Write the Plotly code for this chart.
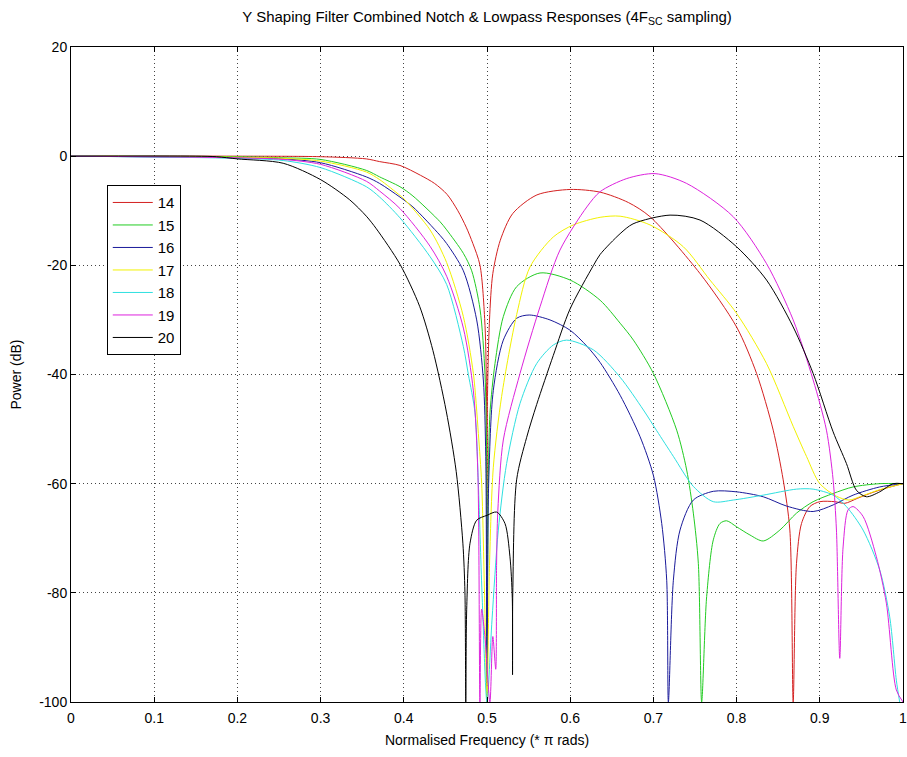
import plotly.graph_objects as go

# ---- data ----
freq_14 = [0, 0.2, 0.3, 0.355, 0.371, 0.3954, 0.42, 0.437, 0.452, 0.465, 0.475, 0.483, 0.4916, 0.4976, 0.4995, 0.5, 0.5005, 0.503, 0.507, 0.516, 0.531, 0.56, 0.6, 0.636, 0.67, 0.696, 0.756, 0.8, 0.824, 0.844, 0.856, 0.864, 0.868, 0.872, 0.878, 0.888, 0.9, 0.918, 0.93, 0.945, 0.96, 0.98, 1.0]
power_14 = [0, 0, -0.1, -0.5, -1.0, -1.7, -3.5, -5, -7, -10, -13, -16, -20, -31, -45, -88, -45, -30, -21.5, -15.4, -10.5, -7.1, -6.1, -6.6, -8.5, -11.1, -21.5, -31.3, -39.8, -50.2, -59.3, -68.5, -100, -74.6, -67.3, -64.2, -63.3, -63.3, -63.6, -62.7, -61.8, -60.8, -60]

freq_15 = [0, 0.2, 0.255, 0.3, 0.355, 0.371, 0.3954, 0.411, 0.4435, 0.4515, 0.4716, 0.4816, 0.4916, 0.4976, 0.4995, 0.5, 0.5015, 0.5036, 0.5096, 0.5196, 0.5357, 0.5637, 0.6, 0.636, 0.66, 0.676, 0.70, 0.728, 0.740, 0.748, 0.754, 0.758, 0.764, 0.772, 0.78, 0.788, 0.80, 0.816, 0.832, 0.852, 0.872, 0.892, 0.916, 0.94, 0.972, 1.0]
power_15 = [0, -0.1, -0.3, -0.6, -2.6, -3.8, -5.6, -7.3, -12.0, -13.5, -17.8, -21, -28, -40, -55, -100, -60, -47, -38, -29.4, -23.9, -21.4, -22.7, -26.4, -30.6, -33.7, -39.8, -50.2, -57.5, -65.4, -74.6, -100, -80.7, -70.3, -67.3, -66.8, -67.9, -69.4, -70.5, -68.5, -65.4, -63.3, -61.8, -60.6, -60, -60]

freq_16 = [0, 0.2, 0.255, 0.3, 0.355, 0.371, 0.3954, 0.411, 0.4435, 0.4515, 0.4716, 0.4876, 0.4956, 0.4985, 0.5, 0.502, 0.5076, 0.5196, 0.5357, 0.5507, 0.5757, 0.6, 0.62, 0.636, 0.66, 0.684, 0.70, 0.71, 0.716, 0.718, 0.724, 0.732, 0.748, 0.772, 0.80, 0.832, 0.86, 0.892, 0.916, 0.94, 0.972, 1.0]
power_16 = [0, -0.3, -0.5, -1.2, -3.8, -5, -7.5, -9.3, -14.5, -16, -21, -30, -41, -55, -100, -60, -42.9, -33.7, -29.7, -29.1, -30, -31.9, -34.8, -37.8, -43.8, -51.4, -58.5, -67.3, -77.7, -100, -77.7, -68.5, -63, -61.4, -61.5, -62.4, -64.1, -65.1, -63.9, -62.1, -60.6, -60]

freq_17 = [0, 0.2, 0.255, 0.3, 0.355, 0.371, 0.3954, 0.4014, 0.4315, 0.4515, 0.4716, 0.4836, 0.4896, 0.4936, 0.497, 0.5, 0.503, 0.5076, 0.5176, 0.5357, 0.5517, 0.5797, 0.6037, 0.636, 0.66, 0.696, 0.736, 0.768, 0.80, 0.836, 0.868, 0.884, 0.90, 0.92, 0.935, 0.95, 0.97, 1.0]
power_17 = [0, -0.2, -0.4, -0.9, -2.9, -4.3, -7.2, -8.0, -13.5, -19.5, -29.4, -39.8, -50.8, -60, -80, -100, -75, -57, -44, -29, -20.3, -14.8, -12.6, -11.2, -11, -12.6, -16.6, -22.7, -28.8, -38, -49.5, -55, -60, -62.3, -63, -62.3, -61.2, -60]

freq_18 = [0, 0.2, 0.255, 0.3, 0.355, 0.371, 0.3954, 0.4315, 0.4515, 0.4716, 0.4776, 0.4856, 0.4896, 0.494, 0.5, 0.506, 0.5136, 0.5236, 0.5397, 0.5597, 0.5797, 0.5957, 0.628, 0.66, 0.688, 0.704, 0.724, 0.748, 0.772, 0.796, 0.832, 0.872, 0.892, 0.916, 0.932, 0.952, 0.972, 0.984, 0.992, 0.996]
power_18 = [0, -0.4, -0.8, -2.1, -5.6, -7.5, -11.3, -18.4, -23.5, -34.9, -40, -47, -60, -80, -100, -85, -68.5, -56.3, -45.3, -38, -34.6, -33.7, -35.5, -40.5, -46.5, -50.3, -55, -60.5, -63.3, -63, -62.1, -61, -61, -62.1, -64.2, -68.5, -75.8, -84.4, -96, -100]

freq_19 = [0, 0.2, 0.255, 0.3, 0.355, 0.371, 0.3954, 0.4315, 0.4515, 0.4716, 0.4836, 0.489, 0.4915, 0.4935, 0.4975, 0.5035, 0.507, 0.5105, 0.5115, 0.513, 0.5196, 0.5397, 0.5637, 0.5877, 0.62, 0.636, 0.668, 0.702, 0.74, 0.796, 0.836, 0.868, 0.892, 0.908, 0.916, 0.92, 0.924, 0.928, 0.934, 0.94, 0.952, 0.968, 0.98, 0.992, 1.0]
power_19 = [0, -0.3, -0.6, -1.5, -4.6, -6.4, -9.6, -16.5, -22, -31.5, -43, -58, -100, -83, -88, -100, -88, -94, -75, -65, -52, -39.8, -27.6, -17.2, -9.3, -6.5, -4.1, -3.2, -5, -11.1, -19.7, -30, -41, -50.2, -59.3, -68.5, -92, -71.6, -64.8, -64.2, -66, -73.4, -81.9, -97.8, -100]

freq_20 = [0, 0.15, 0.175, 0.2, 0.255, 0.3, 0.335, 0.355, 0.367, 0.3954, 0.419, 0.435, 0.451, 0.463, 0.471, 0.4735, 0.4745, 0.4756, 0.4796, 0.4876, 0.5, 0.5116, 0.5216, 0.5276, 0.5304, 0.5307, 0.531, 0.5356, 0.5477, 0.5597, 0.5797, 0.5998, 0.628, 0.636, 0.66, 0.6755, 0.72, 0.756, 0.80, 0.836, 0.868, 0.892, 0.916, 0.932, 0.944, 0.956, 0.972, 0.988, 1.0]
power_20 = [0, 0, -0.1, -0.5, -1.3, -4.3, -8.0, -11.0, -13.3, -19.8, -27.5, -35.6, -46.7, -57.8, -70.9, -80, -100, -83, -70.9, -66.7, -65.8, -65.2, -67.3, -73.4, -81, -95, -80, -59.3, -51.5, -45.5, -36.5, -28, -20, -18, -14.2, -12.4, -10.8, -11.7, -16.6, -22.7, -31.3, -39.8, -50.5, -56.3, -61.2, -62.4, -61.5, -60, -60]

series_names = ["14", "15", "16", "17", "18", "19", "20"]
x_ticks = [0, 0.1, 0.2, 0.3, 0.4, 0.5, 0.6, 0.7, 0.8, 0.9, 1]
x_tick_labels = ["0", "0.1", "0.2", "0.3", "0.4", "0.5", "0.6", "0.7", "0.8", "0.9", "1"]
y_ticks = [-100, -80, -60, -40, -20, 0, 20]
y_tick_labels = ["-100", "-80", "-60", "-40", "-20", "0", "20"]

freqs = [freq_14, freq_15, freq_16, freq_17, freq_18, freq_19, freq_20]
powers = [power_14, power_15, power_16, power_17, power_18, power_19, power_20]
colors = ["#d42020", "#22cc22", "#1a1a9a", "#f2f200", "#2ee0e0", "#dd22dd", "#000000"]

FONT = "Liberation Sans, Arial, Helvetica, sans-serif"

fig = go.Figure()
for name, fx, py, col in zip(series_names, freqs, powers, colors):
    fig.add_trace(go.Scatter(x=fx, y=py, mode="lines", name=name,
                             line=dict(color=col, width=1, shape="spline", smoothing=0.8),
                             cliponaxis=True))

axis_common = dict(showline=True, linecolor="black", linewidth=1, mirror="allticks",
                   ticks="inside", ticklen=5, tickcolor="black",
                   showgrid=True, gridcolor="#444444", griddash="1px,3px", gridwidth=1,
                   zeroline=False, ticklabeloverflow="allow", automargin=False,
                   tickfont=dict(family=FONT, size=14, color="black"))

fig.update_layout(
    width=907, height=757,
    margin=dict(l=71, r=4, t=47, b=55, autoexpand=False),
    paper_bgcolor="white", plot_bgcolor="white",
    title=dict(text="Y Shaping Filter Combined Notch & Lowpass Responses (4F<sub>SC</sub> sampling)",
               x=0.537, xanchor="center", y=0.985, yanchor="top",
               font=dict(family=FONT, size=15, color="black")),
    xaxis=dict(range=[0, 1], tickvals=x_ticks, ticktext=x_tick_labels, ticklabelstandoff=3,
               title=dict(text="Normalised Frequency (* π rads)", standoff=10,
                          font=dict(family=FONT, size=14, color="black")),
               **axis_common),
    yaxis=dict(range=[-100, 20], tickvals=y_ticks, ticktext=y_tick_labels,
               title=dict(text="Power (dB)", standoff=14,
                          font=dict(family=FONT, size=14, color="black")),
               **axis_common),
    legend=dict(x=0.043, y=0.789, xanchor="left", yanchor="top",
                bgcolor="white", bordercolor="black", borderwidth=1,
                font=dict(family=FONT, size=15, color="black"),
                tracegroupgap=0, itemwidth=40, entrywidth=70),
    showlegend=True,
)

fig.write_html("out.html")
